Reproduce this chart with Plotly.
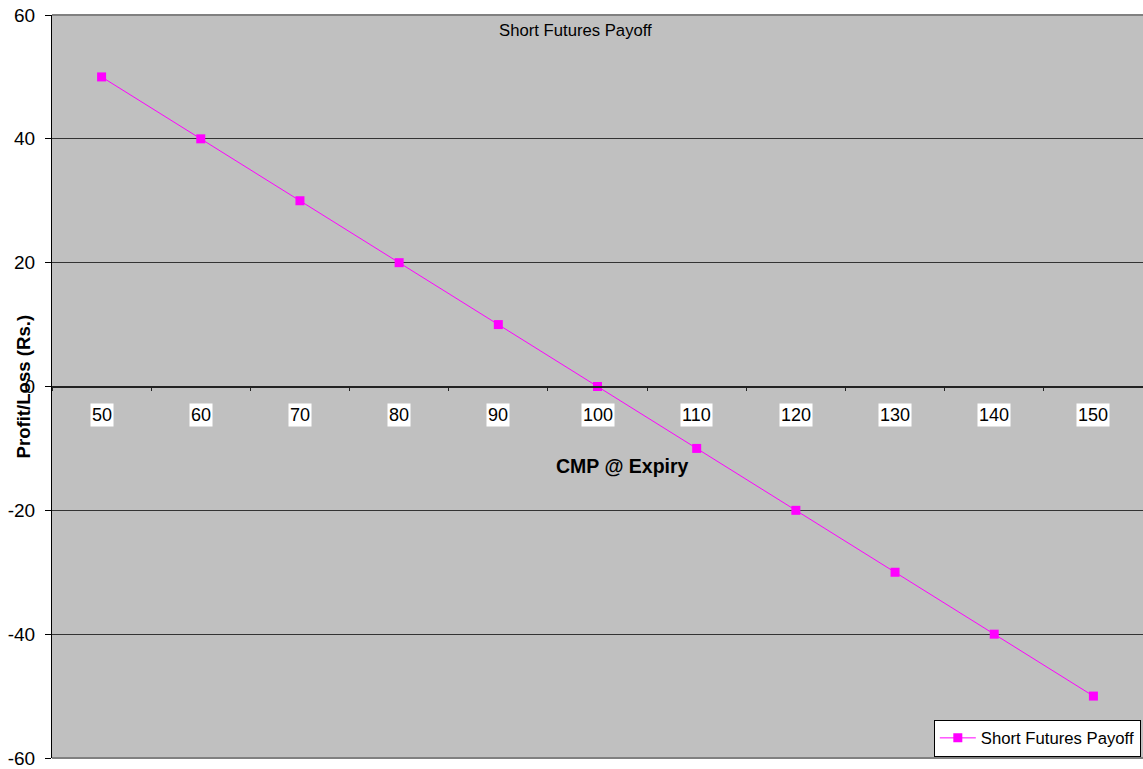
import plotly.graph_objects as go

# Data
cmp_expiry = [50, 60, 70, 80, 90, 100, 110, 120, 130, 140, 150]
payoff = [50, 40, 30, 20, 10, 0, -10, -20, -30, -40, -50]
y_ticks = [-60, -40, -20, 0, 20, 40, 60]
y_ticktext = ['-60', '-40', '-20', '0', '20', '40', '60']

FONT = "Liberation Sans, Arial, sans-serif"
MAGENTA = "#FF00FF"

fig = go.Figure()

fig.add_trace(go.Scatter(
    x=cmp_expiry,
    y=payoff,
    mode='lines+markers',
    name='Short Futures Payoff',
    line=dict(color=MAGENTA, width=1),
    marker=dict(symbol='square', size=9, color=MAGENTA),
))

# x tick labels sit on white boxes below the zero line
annotations = []
for c in cmp_expiry:
    annotations.append(dict(
        x=c, y=0, xref='x', yref='y',
        text=str(c), showarrow=False,
        yanchor='top', yshift=-16,
        bgcolor='white', borderpad=1,
        font=dict(family=FONT, size=18, color='black'),
    ))

# chart title inside plot area
annotations.append(dict(
    x=0.48, y=1, xref='paper', yref='paper',
    text='Short Futures Payoff', showarrow=False,
    yanchor='top', yshift=-4,
    font=dict(family=FONT, size=16.7, color='black'),
))
# x axis title
annotations.append(dict(
    x=0.523, y=-12.8, xref='paper', yref='y',
    text='<b>CMP @ Expiry</b>', showarrow=False,
    font=dict(family=FONT, size=19.5, color='black'),
))
# y axis title
annotations.append(dict(
    x=0, y=0.5, xref='paper', yref='paper',
    text='<b>Profit/Loss (Rs.)</b>', showarrow=False,
    textangle=-90, xanchor='center', xshift=-29,
    font=dict(family=FONT, size=18.6, color='black'),
))

fig.update_layout(
    width=1143,
    height=769,
    margin=dict(l=52, r=0, t=15, b=11),
    paper_bgcolor='white',
    plot_bgcolor='#C0C0C0',
    font=dict(family=FONT, size=18, color='black'),
    showlegend=True,
    legend=dict(
        x=0.998, y=0.002, xanchor='right', yanchor='bottom',
        bgcolor='white', bordercolor='black', borderwidth=1,
        font=dict(family=FONT, size=16.7, color='black'),
        itemwidth=36,
    ),
    xaxis=dict(
        range=[45, 155],
        tick0=45, dtick=10,
        anchor='free', position=0.5,
        showgrid=False,
        showline=True, linecolor='#222222', linewidth=1.5,
        ticks='outside', ticklen=4, tickcolor='#222222',
        showticklabels=False,
        zeroline=False,
    ),
    yaxis=dict(
        range=[-60, 60],
        tickvals=y_ticks,
        ticktext=y_ticktext,
        showgrid=True, gridcolor='#333333', gridwidth=1,
        zeroline=False,
        showline=True, linecolor='black', linewidth=1,
        ticks='outside', ticklen=6, tickcolor='black',
        ticklabelstandoff=6,
        tickfont=dict(family=FONT, size=19, color='black'),
    ),
    annotations=annotations,
)

# gray border lines at top and bottom of the plot area
fig.add_shape(type='line', xref='paper', yref='paper', x0=0, x1=1, y0=1, y1=1,
              line=dict(color='#808080', width=2))
fig.add_shape(type='line', xref='paper', yref='paper', x0=0, x1=1, y0=0, y1=0,
              line=dict(color='#808080', width=2))

fig.write_html("out.html", config={'displayModeBar': False},
               post_script="document.body.style.margin='0';")
